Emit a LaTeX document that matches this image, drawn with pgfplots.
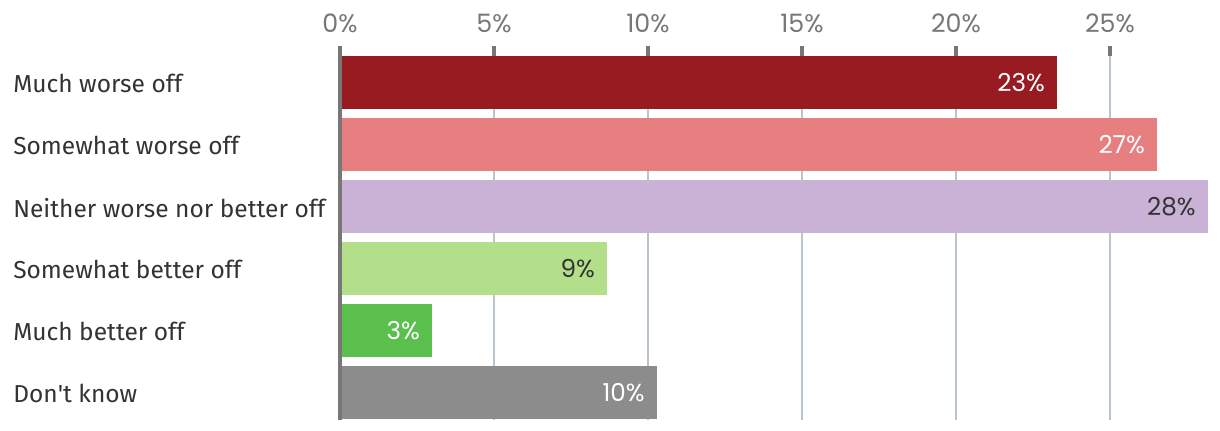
\documentclass[border=0pt]{standalone}
\usepackage{fontspec}
\setmainfont{Fira Sans}
\newfontfamily\numfont{Poppins}
\usepackage{pgfplots}
\pgfplotsset{compat=1.18}

\definecolor{cMuchWorse}{HTML}{971B21}
\definecolor{cSomeWorse}{HTML}{E77F81}
\definecolor{cNeither}{HTML}{C9B2D6}
\definecolor{cSomeBetter}{HTML}{B3DF8B}
\definecolor{cMuchBetter}{HTML}{5BBF4D}
\definecolor{cDontKnow}{HTML}{8C8C8C}
\definecolor{txtdark}{HTML}{333333}
\definecolor{tickgray}{HTML}{777777}
\definecolor{gridc}{HTML}{B9C4CC}

\pgfplotsset{
  valbar/.style={fill=#1, draw=none},
  vallabel/.style={
    nodes near coords,
    point meta=explicit symbolic,
    every node near coord/.append style={anchor=east, xshift=-9pt, inner sep=0pt,
      font=\numfont\fontsize{18.5}{18.5}\selectfont, text=#1},
  },
}

\begin{document}
\begin{tikzpicture}
% 1px = 0.75pt; axis origin at pixel (340,46) of the reference
\path[use as bounding box] (-255pt,34.5pt) rectangle (660pt,-288pt);
\begin{axis}[
  at={(0,0)}, anchor=north west,
  scale only axis, width=660pt, height=280.5pt,
  xbar, bar width=0.855, bar shift=0pt,
  xmin=0, xmax=28.571,
  ymin=-0.5887, ymax=5.4435, y dir=reverse,
  axis x line*=top, axis y line*=left,
  x axis line style={draw=none},
  y axis line style={draw=none},
  ytick={0,1,2,3,4,5},
  yticklabels={Much worse off, Somewhat worse off, Neither worse nor better off,
    Somewhat better off, Much better off, Don\textquotesingle t know},
  yticklabel style={anchor=west, xshift=-245.25pt, yshift=-1pt, inner sep=0pt,
    font=\fontsize{18.4}{18.4}\selectfont, text=txtdark},
  ytick style={draw=none},
  xtick={0,5,10,15,20,25},
  xticklabel={\pgfmathprintnumber{\tick}\%},
  /pgf/number format/assume math mode=true,
  xticklabel style={font=\numfont\fontsize{19}{19}\selectfont, text=tickgray, yshift=6.5pt},
  tick align=inside, major tick length=7.5pt,
  xtick style={draw=tickgray, line width=3pt},
  xmajorgrids,
  major grid style={draw=gridc, line width=1.5pt},
  clip=false,
]
\addplot[valbar=cMuchWorse, vallabel=white] coordinates {(23.28,0) [23\%]};
\addplot[valbar=cSomeWorse, vallabel=white] coordinates {(26.53,1) [27\%]};
\addplot[valbar=cNeither, vallabel=txtdark] coordinates {(28.18,2) [28\%]};
\addplot[valbar=cSomeBetter, vallabel=txtdark] coordinates {(8.67,3) [9\%]};
\addplot[valbar=cMuchBetter, vallabel=white] coordinates {(2.99,4) [3\%]};
\addplot[valbar=cDontKnow, vallabel=white] coordinates {(10.29,5) [10\%]};
% left axis line, drawn over the bars
\draw[tickgray, line width=3pt] (axis cs:0,-0.5887) -- (axis cs:0,5.4435);
\end{axis}
\end{tikzpicture}
\end{document}
